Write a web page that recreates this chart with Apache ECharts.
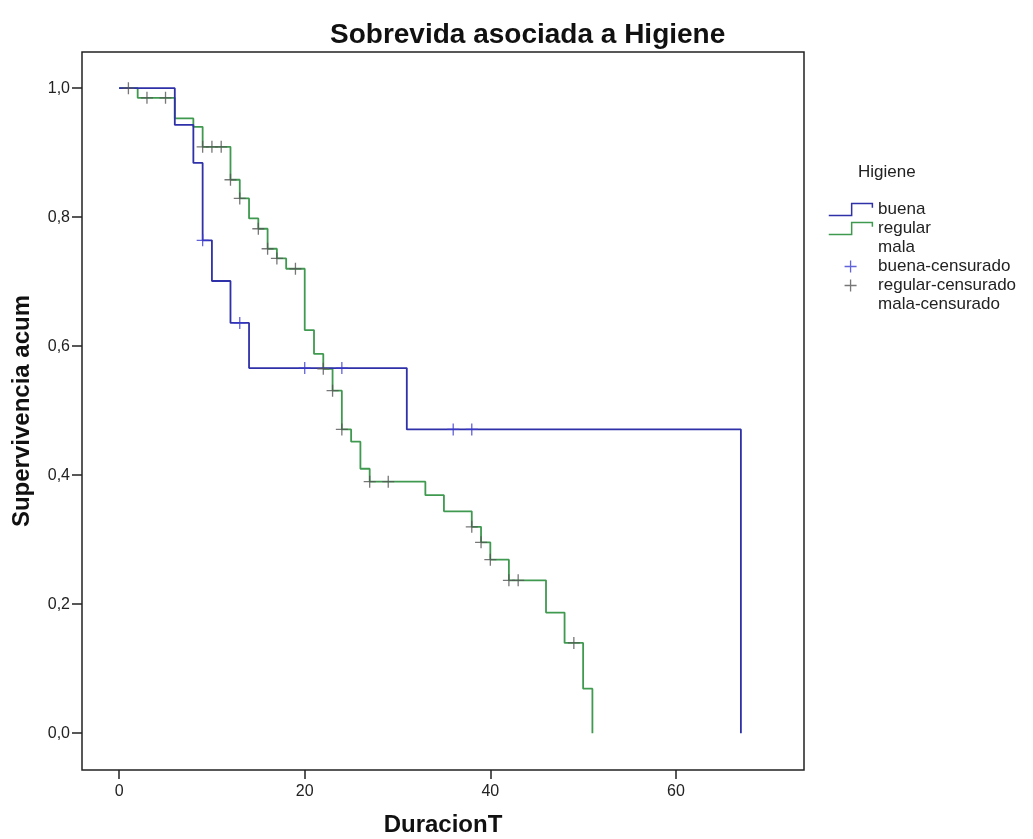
<!DOCTYPE html>
<html><head><meta charset="utf-8">
<script src="https://cdn.jsdelivr.net/npm/echarts@6/dist/echarts.min.js"></script>
<style>html,body{margin:0;padding:0;background:#fff}#c{width:1033px;height:839px}</style>
</head><body><div id="c"></div>
<script>
// ---- data ----
const titleText = 'Sobrevida asociada a Higiene';
const xName = 'DuracionT';
const yName = 'Supervivencia acum';
const legendTitle = 'Higiene';
const groupNames = ['buena', 'regular', 'mala', 'buena-censurado', 'regular-censurado', 'mala-censurado'];
const xTicks = [0, 20, 40, 60];
const yTicks = [0, 0.2, 0.4, 0.6, 0.8, 1.0];

const buenaTimes = [0, 6, 8, 9, 10, 12, 14, 31, 67];
const buenaSurv  = [1.0, 0.943, 0.884, 0.764, 0.701, 0.636, 0.566, 0.471, 0.0];
const buenaCensTimes = [9, 13, 20, 24, 36, 38];
const buenaCensSurv  = [0.764, 0.636, 0.566, 0.566, 0.471, 0.471];

const regularTimes = [0, 2, 6, 8, 9, 12, 13, 14, 15, 16, 17, 18, 20, 21, 22, 23, 24, 25, 26, 27, 33, 35, 38, 39, 40, 42, 46, 48, 50, 51];
const regularSurv  = [1.0, 0.985, 0.953, 0.94, 0.909, 0.858, 0.829, 0.798, 0.782, 0.751, 0.736, 0.72, 0.625, 0.588, 0.565, 0.531, 0.471, 0.452, 0.41, 0.39, 0.369, 0.344, 0.32, 0.296, 0.269, 0.237, 0.187, 0.14, 0.069, 0.0];
const regularCensTimes = [1, 3, 5, 9, 10, 11, 12, 13, 15, 16, 17, 19, 22, 23, 24, 27, 29, 38, 39, 40, 42, 43, 49];
const regularCensSurv  = [1.0, 0.985, 0.985, 0.909, 0.909, 0.909, 0.858, 0.829, 0.782, 0.751, 0.736, 0.72, 0.565, 0.531, 0.471, 0.39, 0.39, 0.32, 0.296, 0.269, 0.237, 0.237, 0.14];

const malaTimes = [];
const malaSurv = [];
const malaCensTimes = [];
const malaCensSurv = [];

// ---- styling ----
const FONT = 'Liberation Sans, Arial, sans-serif';
const cBuena = '#2f31a8';
const cRegular = '#3f9a50';
const cBuenaCens = '#3b3bd0';
const cRegularCens = '#555555';
const stepIcon = 'path://M0,11L21,11L21,0L40,0L40,4';
const plusIcon = 'path://M0,6L12,6M6,0L6,12';
const plusSymbol = 'path://M0,5L10,5M5,0L5,10';

const zip = (a, b) => a.map((v, i) => [v, b[i]]);
const fmt = v => v.toFixed(1).replace('.', ',');

const chart = echarts.init(document.getElementById('c'), null, {renderer: 'canvas'});
chart.setOption({
  animation: false,
  backgroundColor: '#fff',
  textStyle: {fontFamily: FONT},
  title: [
    {text: titleText, left: 330, top: 21, padding: 0,
     textStyle: {fontFamily: FONT, fontSize: 28, fontWeight: 'bold', color: '#111'}},
    {text: legendTitle, left: 858, top: 164, padding: 0,
     textStyle: {fontFamily: FONT, fontSize: 17, fontWeight: 'normal', color: '#222'}}
  ],
  grid: {left: 82, right: 229, top: 52, bottom: 69, show: true, borderColor: '#222', borderWidth: 1.5,
         backgroundColor: '#fff', containLabel: false, outerBoundsMode: 'none'},
  xAxis: {
    type: 'value', min: -4, max: 73.8,
    name: xName, nameLocation: 'middle', nameGap: 43,
    nameTextStyle: {fontFamily: FONT, fontSize: 24, fontWeight: 'bold', color: '#111'},
    axisLine: {show: false, onZero: false},
    axisTick: {show: true, length: 9, inside: false, customValues: xTicks, lineStyle: {color: '#222', width: 1.5}},
    axisLabel: {customValues: xTicks, fontSize: 16, color: '#222', margin: 14, fontFamily: FONT},
    splitLine: {show: false}
  },
  yAxis: {
    type: 'value', min: -0.057, max: 1.056,
    name: yName, nameLocation: 'middle', nameGap: 48, nameRotate: 90,
    nameTextStyle: {fontFamily: FONT, fontSize: 24, fontWeight: 'bold', color: '#111'},
    axisLine: {show: false, onZero: false},
    axisTick: {show: true, length: 10, inside: false, customValues: yTicks, lineStyle: {color: '#222', width: 1.5}},
    axisLabel: {customValues: yTicks, formatter: fmt, fontSize: 16, color: '#222', margin: 12, fontFamily: FONT},
    splitLine: {show: false}
  },
  legend: {
    orient: 'vertical', left: 828, top: 201, padding: 0,
    itemWidth: 45, itemHeight: 12, itemGap: 2, selectedMode: false,
    textStyle: {fontFamily: FONT, fontSize: 17, color: '#222'},
    data: [
      {name: groupNames[0], icon: stepIcon, itemStyle: {color: 'rgba(0,0,0,0)', borderColor: cBuena, borderWidth: 1.5}},
      {name: groupNames[1], icon: stepIcon, itemStyle: {color: 'rgba(0,0,0,0)', borderColor: cRegular, borderWidth: 1.5}},
      {name: groupNames[2], icon: 'none'},
      {name: groupNames[3], icon: plusIcon, itemStyle: {color: 'rgba(0,0,0,0)', borderColor: cBuenaCens, borderWidth: 1.3}},
      {name: groupNames[4], icon: plusIcon, itemStyle: {color: 'rgba(0,0,0,0)', borderColor: cRegularCens, borderWidth: 1.3}},
      {name: groupNames[5], icon: 'none'}
    ]
  },
  series: [
    {name: groupNames[0], type: 'line', step: 'end', showSymbol: false, data: zip(buenaTimes, buenaSurv),
     lineStyle: {color: cBuena, width: 1.8}, itemStyle: {color: cBuena}, z: 3},
    {name: groupNames[1], type: 'line', step: 'end', showSymbol: false, data: zip(regularTimes, regularSurv),
     lineStyle: {color: cRegular, width: 1.8}, itemStyle: {color: cRegular}, z: 2},
    {name: groupNames[2], type: 'line', step: 'end', showSymbol: false, data: zip(malaTimes, malaSurv),
     lineStyle: {color: '#c08030', width: 1.8}},
    {name: groupNames[3], type: 'scatter', symbol: plusSymbol, symbolSize: 12, data: zip(buenaCensTimes, buenaCensSurv),
     itemStyle: {color: 'rgba(0,0,0,0)', borderColor: cBuenaCens, borderWidth: 1.3}, z: 4},
    {name: groupNames[4], type: 'scatter', symbol: plusSymbol, symbolSize: 12, data: zip(regularCensTimes, regularCensSurv),
     itemStyle: {color: 'rgba(0,0,0,0)', borderColor: cRegularCens, borderWidth: 1.3}, z: 4},
    {name: groupNames[5], type: 'scatter', symbol: plusSymbol, symbolSize: 12, data: zip(malaCensTimes, malaCensSurv),
     itemStyle: {color: 'rgba(0,0,0,0)', borderColor: '#c08030', borderWidth: 1.3}}
  ]
});
</script>
</body></html>
